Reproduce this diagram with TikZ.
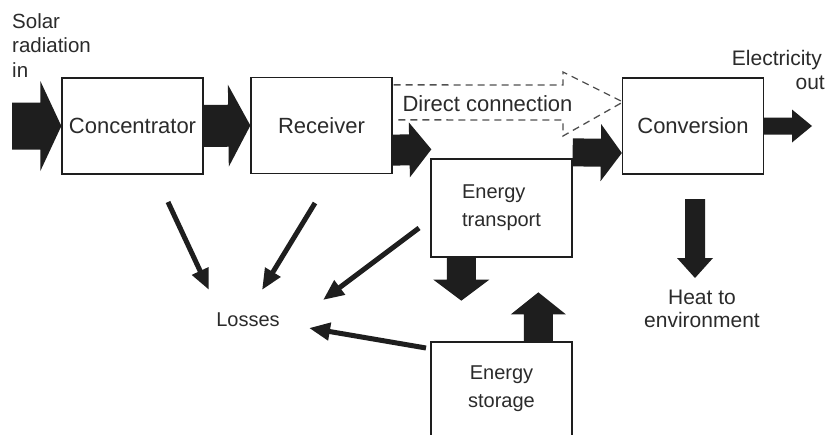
\documentclass[tikz,border=0pt]{standalone}
\usepackage{fontspec}
\setmainfont{Liberation Sans}
\usetikzlibrary{arrows.meta,calc}
\definecolor{ink}{HTML}{1E1E1E}
\definecolor{txt}{HTML}{2B2B2B}
\definecolor{dashc}{HTML}{505050}
\newcommand\fatarrow[5]{%
  \coordinate (fa-h) at ($(#2)!#5!(#1)$);
  \fill[fatfill] ($(#1)!#3!90:(#2)$) -- ($(fa-h)!#3!90:(#2)$) -- ($(fa-h)!#4!90:(#2)$)
    -- (#2) -- ($(fa-h)!#4!-90:(#2)$) -- ($(fa-h)!#3!-90:(#2)$) -- ($(#1)!#3!-90:(#2)$) -- cycle;}
\begin{document}
\begin{tikzpicture}[x=1pt,y=-1pt,
  box/.style={draw=ink, line width=1.3pt, fill=white, minimum width=141pt,
    minimum height=96pt, inner sep=0pt, text=txt, font=\fontsize{22}{26}\selectfont},
  smallbox/.style={box, font=\fontsize{20}{28}\selectfont},
  lbl/.style={text=txt, inner sep=0pt},
  fatfill/.style={fill=ink},
  lossarrow/.style={draw=ink, line width=5pt, -{Triangle[length=21pt,width=17pt]}},
  direct/.style={draw=dashc, line width=1.3pt, dash pattern=on 7pt off 5pt, line join=miter}]
\clip (0,0) rectangle (825,434);
\fill[white] (0,0) rectangle (825,434);

% boxes
\node[box] (conc) at (132.5,126) {Concentrator};
\node[box] (recv) at (321.5,125.5) {Receiver};
\node[box] (conv) at (693,126) {Conversion};
\node[smallbox, minimum height=98pt, align=left] (trans) at (501.5,208) {Energy\\transport};
\node[smallbox, minimum height=94pt, align=center] (stor) at (501.5,389) {Energy\\storage};

% texts
\node[lbl, anchor=north west, align=left, font=\fontsize{20.5}{24.5}\selectfont] (solar) at (12,13) {Solar\\radiation\\in};
\node[lbl, anchor=base east, font=\fontsize{21}{24}\selectfont] (elec) at (822,65) {Electricity};
\node[lbl, anchor=base east, font=\fontsize{21}{24}\selectfont] (out) at (825,89) {out};
\node[lbl, align=center, font=\fontsize{21}{23}\selectfont] (heat) at (702,309) {Heat to\\environment};
\node[lbl, font=\fontsize{20}{24}\selectfont] (loss) at (248,320) {Losses};

% direct connection (dashed hollow arrow)
\coordinate (d0) at ($(recv.north east)+(1,8)$);
\coordinate (tipd) at (623,102);
\draw[direct] (d0) -- (563,85) -- (563,72) -- (tipd) -- (563,136) -- (563,120) -- ($(recv.north east)+(1,43)$);
\node[lbl, font=\fontsize{22}{26}\selectfont] (dc) at (487.5,104) {Direct connection};

% fat arrows
\coordinate (sun) at (12,126);
\fatarrow{sun}{conc.west}{23.5pt}{45pt}{21pt}
\fatarrow{conc.east}{recv.west}{21pt}{41pt}{22pt}
\coordinate (r0) at ($(recv.south east)+(0,-24)$);
\coordinate (r1) at ($(trans.north west)+(1,-9)$);
\fatarrow{r0}{r1}{15.5pt}{27.5pt}{22pt}
\coordinate (t0) at ($(trans.north east)+(0,-6)$);
\coordinate (t1) at ($(conv.west)+(0,27)$);
\fatarrow{t0}{t1}{14pt}{28.5pt}{21pt}
\coordinate (eout) at (812,126);
\fatarrow{conv.east}{eout}{8.5pt}{16.5pt}{20pt}
\coordinate (h0) at (695,199);
\coordinate (h1) at (695,278);
\fatarrow{h0}{h1}{10pt}{18pt}{20pt}
\coordinate (ts0) at ($(trans.south west)+(31,0)$);
\coordinate (ts1) at ($(trans.south west)+(31,43)$);
\fatarrow{ts0}{ts1}{14.5pt}{28pt}{21pt}
\coordinate (st0) at ($(stor.north west)+(108,0)$);
\coordinate (st1) at ($(stor.north west)+(108,-49)$);
\fatarrow{st0}{st1}{14.5pt}{27.5pt}{22pt}

% losses arrows
\coordinate (l1s) at (168,202); \coordinate (l1e) at (209,290);
\coordinate (l2s) at (315,203); \coordinate (l2e) at (262,290);
\coordinate (l3s) at (419,228); \coordinate (l3e) at (323,300);
\coordinate (l4s) at (426,348); \coordinate (l4e) at (309,328);
\draw[lossarrow] (l1s) -- (l1e);
\draw[lossarrow] (l2s) -- (l2e);
\draw[lossarrow] (l3s) -- (l3e);
\draw[lossarrow] (l4s) -- (l4e);
\end{tikzpicture}
\end{document}
